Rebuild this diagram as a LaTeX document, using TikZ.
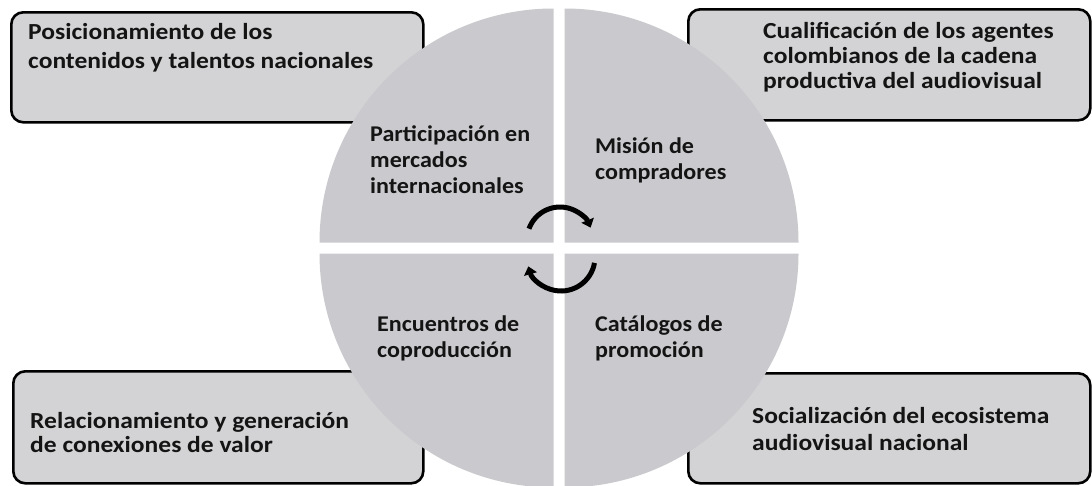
\documentclass[tikz,border=0pt]{standalone}
\usepackage{fontspec}
\setmainfont{Carlito}
\newfontfamily\boxfont{Carlito}[FakeStretch=1.11]
\newfontfamily\ctrfont{Carlito}[FakeStretch=1.07]
\usetikzlibrary{arrows.meta}
\definecolor{quadfill}{RGB}{202,202,206}
\definecolor{boxfill}{RGB}{211,211,213}
\definecolor{txt}{RGB}{20,20,20}
\begin{document}
\begin{tikzpicture}[x=1pt,y=1pt,
  box/.style={draw=black, line width=2.6pt, rounded corners=12pt, fill=boxfill, inner sep=0pt, anchor=north west},
  quad/.style={fill=quadfill, draw=none},
  blbl/.style={anchor=base west, align=left, inner sep=0pt, text=txt, font=\boxfont\bfseries\fontsize{23}{#1}\selectfont},
  clbl/.style={anchor=base west, align=left, inner sep=0pt, text=txt, font=\ctrfont\bfseries\fontsize{22.5}{#1}\selectfont},
  clbl/.default=26,
  cyc/.style={line width=5pt, -{Triangle[length=8pt,width=13pt]}}]
\useasboundingbox (0,0) rectangle (1092,-485);
\fill[white] (0,0) rectangle (1092,-485);
% outer boxes
\node[box, minimum width=412pt, minimum height=110pt] (bTL) at (10,-11) {};
\node[box, minimum width=402pt, minimum height=111pt] (bTR) at (687,-8) {};
\node[box, minimum width=410pt, minimum height=112pt] (bBL) at (12,-370) {};
\node[box, minimum width=402pt, minimum height=110pt] (bBR) at (687,-372) {};
% quadrants
\fill[quad] (553.5,-242.5) -- ++(-234,0) arc[start angle=180,end angle=90,radius=234] -- cycle;
\fill[quad] (564.5,-242.5) -- ++(234,0) arc[start angle=0,end angle=90,radius=234] -- cycle;
\fill[quad] (553.5,-253.5) -- ++(-234,0) arc[start angle=180,end angle=270,radius=234] -- cycle;
\fill[quad] (564.5,-253.5) -- ++(234,0) arc[start angle=0,end angle=-90,radius=234] -- cycle;
% box texts (anchored at the baseline of the last line)
\node[blbl=29] (tTL) at (28,-68) {Posicionamiento de los\\contenidos y talentos nacionales};
\node[blbl=25] (tTR) at (763,-88) {Cualificación de los agentes\\colombianos de la cadena\\productiva del audiovisual};
\node[blbl=24] (tBL) at (30,-452) {Relacionamiento y generación\\de conexiones de valor};
\node[blbl=27] (tBR) at (752,-450) {Socialización del ecosistema\\audiovisual nacional};
% quadrant texts
\node[clbl] (qTL) at (370,-193) {Participación en\\mercados\\internacionales};
\node[clbl] (qTR) at (595,-179) {Misión de\\compradores};
\node[clbl] (qBL) at (377,-357) {Encuentros de\\coproducción};
\node[clbl] (qBR) at (595,-357) {Catálogos de\\promoción};
% cycle arrows
\coordinate (c1) at (560,-240);
\coordinate (c2) at (561,-257);
\draw[cyc] ([shift={(160:33)}]c1) arc[start angle=160,end angle=22,radius=33];
\draw[cyc] ([shift={(-10:34)}]c2) arc[start angle=-10,end angle=-164,radius=34];
\end{tikzpicture}
\end{document}
